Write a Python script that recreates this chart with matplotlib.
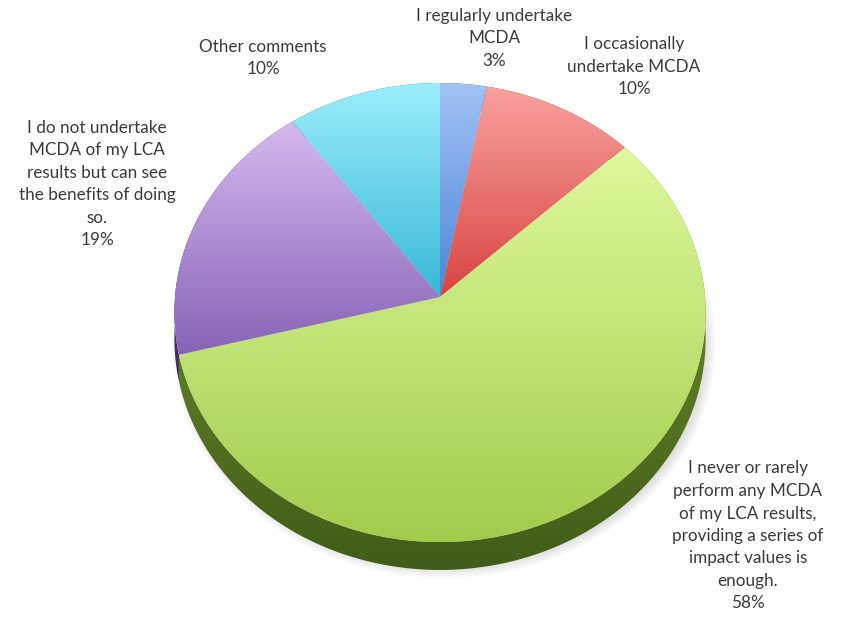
import numpy as np
import matplotlib
matplotlib.use("Agg")
import matplotlib.pyplot as plt
from matplotlib.patches import Polygon, Ellipse
from matplotlib.colors import LinearSegmentedColormap

# survey answers, clockwise from 12 o'clock
labels = [
    "I regularly undertake\nMCDA",
    "I occasionally\nundertake MCDA",
    "I never or rarely\nperform any MCDA\nof my LCA results,\nproviding a series of\nimpact values is\nenough.",
    "I do not undertake\nMCDA of my LCA\nresults but can see\nthe benefits of doing\nso.",
    "Other comments",
]
shares = [3, 10, 58, 19, 10]

# light / dark ends of each slice gradient, and the rim colours
top_colors = [("#a2c3f6", "#4c84d6"), ("#f9a29e", "#d9443f"), ("#def99e", "#a3cb4c"),
              ("#d4b9f0", "#8763b6"), ("#9cedfc", "#38b8d7")]
side_colors = [("#3a5f9e", "#243f70"), ("#a3302c", "#6e1c19"), ("#779a33", "#415c18"),
               ("#664a8c", "#3f2c5c"), ("#2a8ca4", "#1a5e70")]

# label anchor points (pixel space) for each slice
label_pos = [(494, 38), (634, 67), (748, 536), (97, 184), (263, 58)]

W, H = 853, 623
CX, CY = 440, 297         # apex of the pie
A, B = 265, 228.5         # horizontal / vertical radii
K = 0.0676                # perspective factor
DEPTH = 26                # thickness of the disc


def proj(phi, drop=0.0):
    u = np.sin(phi)
    v = np.cos(phi)
    s = 1.0 / (1.0 + K * v)
    return CX + A * u * s, CY - B * v * s + drop * s


def gradient_fill(ax, verts, c0, c1, zorder):
    poly = Polygon(verts, closed=True, facecolor="none", edgecolor="none")
    ax.add_patch(poly)
    x0, y0 = verts.min(axis=0)
    x1, y1 = verts.max(axis=0)
    cmap = LinearSegmentedColormap.from_list("g", [c0, c1])
    grad = np.linspace(0, 1, 256).reshape(-1, 1)
    im = ax.imshow(grad, cmap=cmap, extent=(x0, x1, y1, y0), origin="upper",
                   aspect="auto", interpolation="bilinear", zorder=zorder)
    im.set_clip_path(poly)


fig = plt.figure(figsize=(W / 100, H / 100), dpi=100)
ax = fig.add_axes([0, 0, 1, 1])
ax.set_xlim(0, W)
ax.set_ylim(H, 0)
ax.axis("off")

# soft shadow under the disc
for i in range(12):
    ax.add_patch(Ellipse((CX + 4, CY + 22 + DEPTH), 2 * A + 14 - i * 2, 2 * B * 1.0 + 10 - i * 2,
                         facecolor="#000000", alpha=0.012, edgecolor="none", zorder=1))

edges = np.concatenate([[0], np.cumsum(shares)]) / sum(shares) * 2 * np.pi

# sides first, then the top faces over them
for i in range(len(shares)):
    phi = np.linspace(edges[i], edges[i + 1], 200)
    tx, ty = proj(phi)
    bx, by = proj(phi[::-1], DEPTH)
    verts = np.column_stack([np.concatenate([tx, bx]), np.concatenate([ty, by])])
    gradient_fill(ax, verts, side_colors[i][0], side_colors[i][1], zorder=2)

for i in range(len(shares)):
    phi = np.linspace(edges[i], edges[i + 1], 200)
    tx, ty = proj(phi)
    verts = np.column_stack([np.concatenate([[CX], tx]), np.concatenate([[CY], ty])])
    gradient_fill(ax, verts, top_colors[i][0], top_colors[i][1], zorder=3)

for lab, val, (x, y) in zip(labels, shares, label_pos):
    ax.text(x, y, f"{lab}\n{val}%", ha="center", va="center", fontsize=12.3,
            family="Lato", color="#3a3a3a", linespacing=1.5, zorder=5)

fig.savefig("out.png", dpi=100)
